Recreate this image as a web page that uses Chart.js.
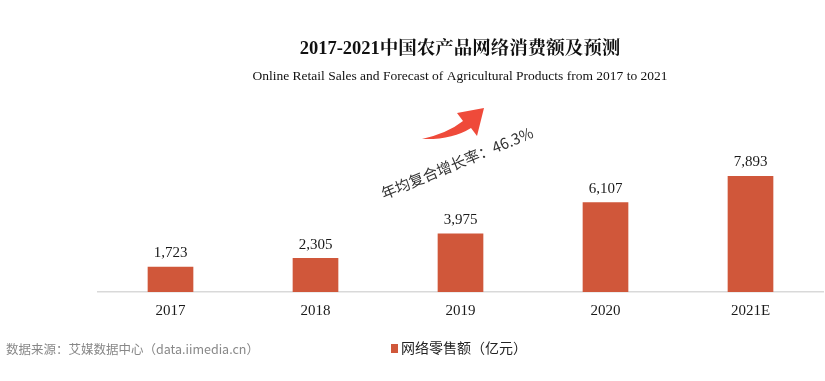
<!DOCTYPE html>
<html>
<head>
<meta charset="utf-8">
<script src="https://cdn.jsdelivr.net/npm/chart.js@4.4.0/dist/chart.umd.min.js"></script>
<style>
html,body{margin:0;padding:0;background:#fff;}
#wrap{width:825px;height:381px;position:relative;}
</style>
</head>
<body>
<div id="wrap"><canvas id="c" width="825" height="381"></canvas></div>
<script>
const categories = ["2017", "2018", "2019", "2020", "2021E"];
const salesValues = [1723, 2305, 3975, 6107, 7893];
const seriesName = "网络零售额（亿元）";
const titleText = "2017-2021中国农产品网络消费额及预测";
const subtitleText = "Online Retail Sales and Forecast of Agricultural Products from 2017 to 2021";
const cagrText = "年均复合增长率：46.3%";
const sourceText = "数据来源：艾媒数据中心（data.iimedia.cn）";

const barColor = "#D0573A";
const serif = "'Liberation Serif','Noto Serif CJK SC','Noto Sans CJK SC',serif";
const cjk = "'Noto Sans CJK SC',sans-serif";

const decor = {
  id: 'decor',
  afterDatasetsDraw(chart) {
    const ctx = chart.ctx;
    const meta = chart.getDatasetMeta(0);
    ctx.save();
    ctx.fillStyle = "#1a1a1a";
    ctx.font = "15px " + serif;
    ctx.textAlign = "center";
    ctx.textBaseline = "bottom";
    meta.data.forEach((bar, i) => {
      ctx.fillText(salesValues[i].toLocaleString('en-US'), bar.x, bar.y - 6);
    });
    ctx.restore();
  },
  afterDraw(chart) {
    const ctx = chart.ctx;
    ctx.save();
    ctx.fillStyle = "#111";
    ctx.textAlign = "center";
    ctx.textBaseline = "middle";
    ctx.font = "bold 18.5px " + serif;
    ctx.fillText(titleText, 460, 49);
    ctx.font = "13.5px " + serif;
    ctx.fillText(subtitleText, 460, 76);

    // arrow
    ctx.fillStyle = "#EF4A3A";
    ctx.beginPath();
    ctx.moveTo(422, 139);
    ctx.quadraticCurveTo(448, 133, 463, 121);
    ctx.lineTo(457, 113);
    ctx.lineTo(484, 108);
    ctx.lineTo(477, 136);
    ctx.lineTo(471, 128);
    ctx.quadraticCurveTo(452, 140, 422, 139);
    ctx.closePath();
    ctx.fill();

    // rotated CAGR text
    ctx.save();
    ctx.translate(457, 163);
    ctx.rotate(-22.5 * Math.PI / 180);
    ctx.fillStyle = "#333";
    ctx.font = "15px " + cjk;
    ctx.textAlign = "center";
    ctx.textBaseline = "middle";
    ctx.fillText(cagrText, 0, 0);
    ctx.restore();

    // legend
    ctx.fillStyle = barColor;
    ctx.fillRect(391, 344, 7, 9);
    ctx.fillStyle = "#222";
    ctx.font = "14px " + cjk;
    ctx.textAlign = "left";
    ctx.textBaseline = "middle";
    ctx.fillText(seriesName, 401, 348);

    // source
    ctx.fillStyle = "#888";
    ctx.font = "12.5px " + cjk;
    ctx.fillText(sourceText, 6, 349);
    ctx.restore();
  }
};

new Chart(document.getElementById('c'), {
  type: 'bar',
  data: {
    labels: categories,
    datasets: [{
      label: seriesName,
      data: salesValues,
      backgroundColor: barColor,
      barPercentage: 0.315,
      categoryPercentage: 1.0
    }]
  },
  options: {
    responsive: false,
    animation: false,
    layout: { padding: { left: 98, right: 2, top: 145, bottom: 51 } },
    plugins: { legend: { display: false }, tooltip: { enabled: false } },
    scales: {
      x: {
        grid: { display: false, drawTicks: false },
        border: { display: true, color: "#D9D9D9", width: 1.5 },
        ticks: { color: "#1a1a1a", font: { family: serif, size: 15 }, padding: 10 }
      },
      y: {
        display: false,
        min: 0,
        max: 10000
      }
    }
  },
  plugins: [decor]
});
</script>
</body>
</html>
